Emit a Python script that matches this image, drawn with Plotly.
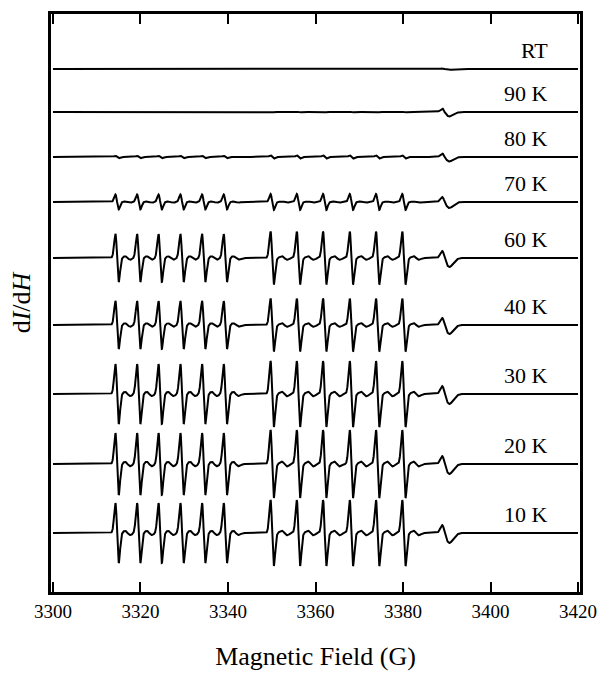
import numpy as np
import plotly.graph_objects as go

# ---- data ----
labels = ["RT", "90 K", "80 K", "70 K", "60 K", "40 K", "30 K", "20 K", "10 K"]
offsets = [464, 421, 376, 331, 275, 208, 139, 69, 0]          # vertical stacking offset
group1_fields = [3314.65, 3319.6, 3324.5, 3329.5, 3334.45, 3339.4]  # G
group2_fields = [3350.1, 3356.1, 3362.1, 3368.2, 3374.2, 3380.2]    # G
extra_field = 3389.5                                                # G
amp_group1 = [0.0, 0.3, 1.2, 7.5, 24.0, 24.0, 30.0, 31.0, 30.0]
amp_group2 = [0.3, 0.4, 1.6, 8.0, 26.5, 26.5, 33.0, 34.0, 33.0]
amp_extra_up = [0.5, 3.5, 3.5, 5.0, 7.0, 7.0, 8.0, 8.0, 8.0]
amp_extra_down = [0.7, 4.5, 4.5, 6.0, 9.0, 9.0, 10.0, 10.0, 10.0]
sigma_main = 0.38       # G
sigma_extra_low = 0.55  # G
sigma_extra_high = 1.1  # G
satellite_ratio = 0.07
tick_vals = [3300, 3320, 3340, 3360, 3380, 3400, 3420]

field = np.arange(3300.0, 3420.0001, 0.03)


def dgauss(x, x0, s):
    d = (x - x0) / s
    return -d * np.exp(0.5 - d ** 2 / 2)


fig = go.Figure()
for i, lab in enumerate(labels):
    y = np.zeros_like(field)
    for f in group1_fields:
        y += amp_group1[i] * dgauss(field, f, sigma_main)
        y += satellite_ratio * amp_group1[i] * dgauss(field, f + 2.4, 0.6)
    for f in group2_fields:
        y += amp_group2[i] * dgauss(field, f, sigma_main)
        y += satellite_ratio * amp_group2[i] * dgauss(field, f + 2.8, 0.6)
    low = field < extra_field
    y += np.where(low, amp_extra_up[i] * dgauss(field, extra_field, sigma_extra_low),
                  amp_extra_down[i] * dgauss(field, extra_field, sigma_extra_high))
    y += offsets[i]
    fig.add_trace(go.Scatter(x=field, y=y, mode="lines",
                             line=dict(color="black", width=2),
                             showlegend=False, hoverinfo="skip"))
    fig.add_annotation(x=3413.6, y=offsets[i] + 4, text=lab, showarrow=False,
                       xanchor="right", yanchor="bottom",
                       font=dict(family="Liberation Serif", size=22, color="black"))

fig.update_layout(
    width=599, height=675,
    margin=dict(l=51, r=19, t=14, b=83),
    paper_bgcolor="white", plot_bgcolor="white",
    font=dict(family="Liberation Serif", color="black"),
)
fig.update_xaxes(
    range=[3299.55, 3420.45], tickvals=tick_vals, automargin=False,
    ticks="inside", ticklen=10, tickwidth=2, tickcolor="black",
    showline=True, linewidth=3, linecolor="black", mirror="ticks",
    showgrid=False, zeroline=False, ticklabeloverflow="allow",
    tickfont=dict(family="Liberation Serif", size=19),
    title=dict(text="Magnetic Field (G)", font=dict(family="Liberation Serif", size=26), standoff=27),
)
fig.update_yaxes(
    range=[-59, 519], showticklabels=False, ticks="", automargin=False,
    showline=True, linewidth=3, linecolor="black", mirror=True,
    showgrid=False, zeroline=False,
    title=dict(text="d<i>I</i>/d<i>H</i>", font=dict(family="Liberation Serif", size=26), standoff=10),
)
fig.write_html(
    "out.html",
    config={"displayModeBar": False},
    post_script="document.body.style.margin='0';document.body.style.overflow='hidden';",
)
